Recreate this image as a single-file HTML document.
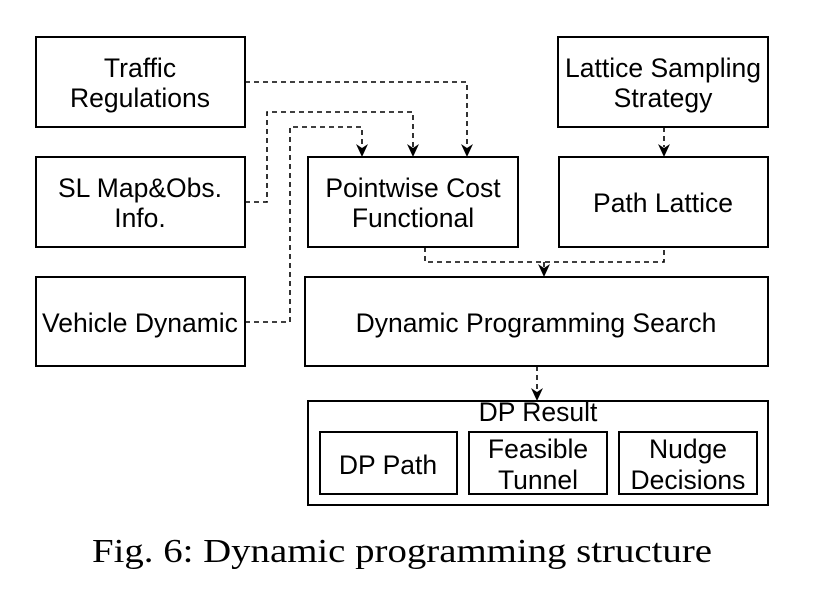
<!DOCTYPE html>
<html><head><meta charset="utf-8"><style>
html,body{margin:0;padding:0;background:#fff;}
svg{display:block;}
text{font-family:"Liberation Sans",sans-serif;font-size:26.5px;fill:#000;text-anchor:middle;}
.cap{font-family:"Liberation Serif",serif;font-size:34px;text-anchor:start;}
rect{fill:#fff;stroke:#000;stroke-width:2;}
.d{fill:none;stroke:#000;stroke-width:1.6;stroke-dasharray:5,4;}
</style></head><body>
<svg width="830" height="603" viewBox="0 0 830 603" xmlns="http://www.w3.org/2000/svg">
<polyline class="d" points="245,82 467,82 467,147"/>
<polyline class="d" points="245,202 267,202 267,112 413,112 413,147"/>
<polyline class="d" points="245,322 290,322 290,127 362,127 362,147"/>
<polyline class="d" points="664,127 664,147"/>
<polyline class="d" points="425,247 425,262 664,262 664,247"/>
<polyline class="d" points="544,262 544,267"/>
<polyline class="d" points="537,366 537,390"/>
<g fill="#000">
<polygon points="356,144 362,148 368,144 362,157"/>
<polygon points="407,144 413,148 419,144 413,157"/>
<polygon points="461,144 467,148 473,144 467,157"/>
<polygon points="658,144 664,148 670,144 664,157"/>
<polygon points="538,264 544,268 550,264 544,277"/>
<polygon points="531,388 537,392 543,388 537,401"/>
</g>
<rect x="36" y="37" width="209" height="90"/>
<text x="140" y="77">Traffic</text><text x="140" y="107">Regulations</text>
<rect x="36" y="157" width="209" height="90"/>
<text x="140" y="197">SL Map&amp;Obs.</text><text x="140" y="227">Info.</text>
<rect x="36" y="277" width="209" height="89"/>
<text x="140" y="332">Vehicle Dynamic</text>
<rect x="558" y="37" width="210" height="90"/>
<text x="663" y="77">Lattice Sampling</text><text x="663" y="107">Strategy</text>
<rect x="308" y="157" width="210" height="90"/>
<text x="413" y="197">Pointwise Cost</text><text x="413" y="227">Functional</text>
<rect x="559" y="157" width="209" height="90"/>
<text x="663" y="212">Path Lattice</text>
<rect x="305" y="277" width="463" height="89"/>
<text x="536" y="332">Dynamic Programming Search</text>
<rect x="308" y="401" width="460" height="104"/>
<text x="538" y="421">DP Result</text>
<rect x="320" y="432" width="137" height="62"/>
<text x="388" y="474">DP Path</text>
<rect x="469" y="432" width="138" height="62"/>
<text x="538" y="458">Feasible</text><text x="538" y="489">Tunnel</text>
<rect x="619" y="432" width="138" height="62"/>
<text x="688" y="458">Nudge</text><text x="688" y="489">Decisions</text>
<text class="cap" x="92" y="562" textLength="620" lengthAdjust="spacingAndGlyphs">Fig. 6: Dynamic programming structure</text>
</svg>
</body></html>
